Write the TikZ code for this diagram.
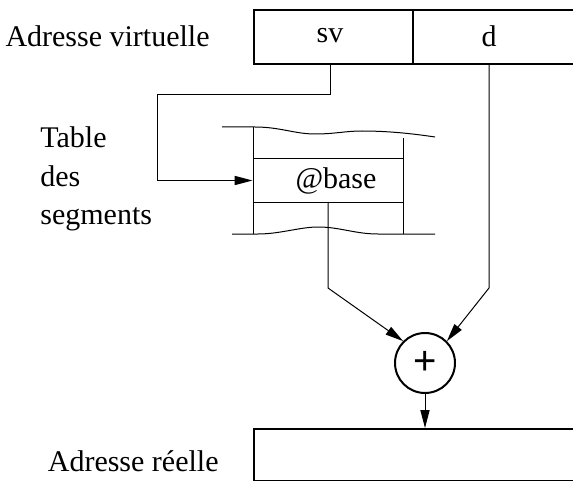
\documentclass[tikz,border=0pt]{standalone}
\usepackage{fontspec}
\setmainfont{Liberation Serif}
\newfontfamily\plusfont{Liberation Sans}
\usepackage{tikz}
\usetikzlibrary{arrows.meta,positioning,calc}

\begin{document}
\begin{tikzpicture}[
 x=0.5pt,y=-0.5pt,
 t/.style={font=\fontsize{15}{19.25}\selectfont,inner sep=0pt},
 reg/.style={draw,line width=1pt,anchor=north west,inner sep=0pt,minimum width=170pt},
 w/.style={line width=0.5pt},
 a/.style={-{Triangle[length=9pt,width=4.6pt]},line width=0.5pt}
]
\useasboundingbox (0,0) rectangle (573,481);
% virtual address register
\node[reg,minimum height=27pt] (vaddr) at (253,9) {};
\coordinate (div) at (413,0);
\draw[line width=1pt] (vaddr.north -| div) -- (vaddr.south -| div);
\node[t] (sv) at (330,36) {sv};
\node[t] (d) at (489,36) {d};
\node[t,anchor=east] (vlbl) at (210,36) {Adresse virtuelle};
% segment table
\node[t,align=left,anchor=west] (tbl) at (40,179) {Table\\des\\segments};
\draw[w] (222,127) -- (255,127) .. controls (280,127) and (295,134) .. (315,134)
 .. controls (335,134) and (345,131) .. (362,131) .. controls (390,131) and (415,134) .. (435,137);
\draw[w] (232,234) -- (258,234) .. controls (280,234) and (300,227) .. (318,227)
 .. controls (340,227) and (355,234) .. (378,234) -- (435,234);
\draw[w] (253,127) -- (253,234);
\draw[w] (403,138) -- (403,234);
\node[draw,w,minimum width=75pt,minimum height=21.5pt,inner sep=0pt] (seg) at (328,180.5) {};
\node[t] (base) at (336,181) {@base};
% adder
\node[draw,circle,line width=1pt,minimum size=30pt,inner sep=0pt,font=\plusfont\fontsize{20}{22}\selectfont] (sum) at (425,363) {+};
% real address register
\node[reg,minimum height=26pt] (raddr) at (253,428) {};
\node[t,anchor=east] (rlbl) at (219,461) {Adresse réelle};
% connectors
\coordinate (bend) at (157,95);
\coordinate (kl) at (328,288);
\coordinate (kr) at (489,288);
\draw[a] (vaddr.south -| sv) |- (bend) |- (seg.west);
\draw[a] (seg.south) -- (kl) -- (sum.135);
\draw[a] (vaddr.south -| d) -- (kr) -- (sum.45);
\draw[a] (sum.south) -- (raddr.north -| sum);
\end{tikzpicture}
\end{document}
